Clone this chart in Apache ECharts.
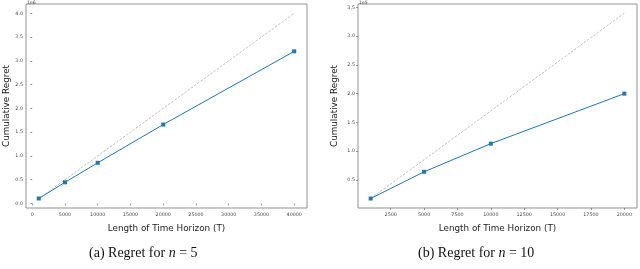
<!DOCTYPE html>
<html>
<head>
<meta charset="utf-8">
<script src="https://cdn.jsdelivr.net/npm/echarts@6/dist/echarts.min.js"></script>
<style>html,body{margin:0;padding:0;background:#fff}#c{width:640px;height:269px}</style>
</head>
<body>
<div id="c"></div>
<script>
// Data (a) n=5, values in units of 1e6
const xA = [1000, 5000, 10000, 20000, 40000];
const regretA = [0.105, 0.445, 0.855, 1.66, 3.2];
const refA = [0.1, 0.5, 1.0, 2.0, 4.0];
const xTicksA = [0, 5000, 10000, 15000, 20000, 25000, 30000, 35000, 40000];
const yTicksA = [0.0, 0.5, 1.0, 1.5, 2.0, 2.5, 3.0, 3.5, 4.0];
// Data (b) n=10, values in units of 1e5
const xB = [1000, 5000, 10000, 20000];
const regretB = [0.175, 0.64, 1.13, 2.0];
const refB = [0.175, 0.85, 1.7, 3.4];
const xTicksB = [2500, 5000, 7500, 10000, 12500, 15000, 17500, 20000];
const yTicksB = [0.5, 1.0, 1.5, 2.0, 2.5, 3.0, 3.5];
const captions = ['(a) Regret for ', '(b) Regret for '];

const blue = '#1f77b4';
const tickFont = {fontSize: 4.8, color: '#444', fontFamily: 'DejaVu Sans'};
const border = '#777';
const nameFont = {fontSize: 8.8, color: '#222', fontFamily: 'DejaVu Sans'};

function xAxis(gi, min, max, ticks) {
  return {
    type: 'value', gridIndex: gi, min: min, max: max,
    name: 'Length of Time Horizon (T)', nameLocation: 'middle', nameGap: 16,
    nameTextStyle: nameFont,
    axisLine: {show: false}, splitLine: {show: false},
    axisTick: {show: true, length: 2, customValues: ticks, lineStyle: {color: '#555', width: 0.6}},
    axisLabel: Object.assign({customValues: ticks, margin: 4, formatter: v => String(v)}, tickFont)
  };
}
function yAxis(gi, min, max, ticks, gap) {
  return {
    type: 'value', gridIndex: gi, min: min, max: max,
    name: 'Cumulative Regret', nameLocation: 'middle', nameGap: gap,
    nameTextStyle: nameFont,
    axisLine: {show: false}, splitLine: {show: false},
    axisTick: {show: true, length: 2, customValues: ticks, lineStyle: {color: '#555', width: 0.6}},
    axisLabel: Object.assign({customValues: ticks, margin: 3, formatter: v => v.toFixed(1)}, tickFont)
  };
}
function pairs(xs, ys) { return xs.map((x, i) => [x, ys[i]]); }

const chart = echarts.init(document.getElementById('c'), null, {renderer: 'canvas'});
chart.setOption({
  animation: false,
  backgroundColor: '#fff',
  grid: [
    {left: 26, right: 333, top: 4, bottom: 61, show: true, borderColor: border, borderWidth: 0.8, backgroundColor: 'transparent'},
    {left: 358, right: 3, top: 4, bottom: 61, show: true, borderColor: border, borderWidth: 0.8, backgroundColor: 'transparent'}
  ],
  xAxis: [xAxis(0, -950, 41950, xTicksA), xAxis(1, 50, 20950, xTicksB)],
  yAxis: [yAxis(0, -0.095, 4.195, yTicksA, 9), yAxis(1, 0.01, 3.56, yTicksB, 19)],
  series: [
    {type: 'line', xAxisIndex: 0, yAxisIndex: 0, data: pairs(xA, refA), symbol: 'none',
     lineStyle: {color: '#b0b0b0', width: 0.8, type: [2.5, 1.5]}, z: 1},
    {type: 'line', xAxisIndex: 0, yAxisIndex: 0, data: pairs(xA, regretA), symbol: 'rect', symbolSize: 4,
     itemStyle: {color: blue}, lineStyle: {color: blue, width: 1}, z: 2},
    {type: 'line', xAxisIndex: 1, yAxisIndex: 1, data: pairs(xB, refB), symbol: 'none',
     lineStyle: {color: '#b0b0b0', width: 0.8, type: [2.5, 1.5]}, z: 1},
    {type: 'line', xAxisIndex: 1, yAxisIndex: 1, data: pairs(xB, regretB), symbol: 'rect', symbolSize: 4,
     itemStyle: {color: blue}, lineStyle: {color: blue, width: 1}, z: 2}
  ],
  graphic: [
    {type: 'text', left: 27, top: 0, style: {text: '1e6', fontSize: 4.6, fill: '#444', fontFamily: 'DejaVu Sans'}},
    {type: 'text', left: 359, top: 0, style: {text: '1e5', fontSize: 4.6, fill: '#444', fontFamily: 'DejaVu Sans'}},
    {type: 'text', left: 89, top: 246, style: {
      rich: {s: {fontSize: 14, fontFamily: 'Liberation Serif', fill: '#111'}, i: {fontSize: 14, fontFamily: 'Liberation Serif', fontStyle: 'italic', fill: '#111'}},
      text: '{s|' + captions[0] + '}{i|n}{s| = 5}'}},
    {type: 'text', left: 418, top: 246, style: {
      rich: {s: {fontSize: 14, fontFamily: 'Liberation Serif', fill: '#111'}, i: {fontSize: 14, fontFamily: 'Liberation Serif', fontStyle: 'italic', fill: '#111'}},
      text: '{s|' + captions[1] + '}{i|n}{s| = 10}'}}
  ]
});
</script>
</body>
</html>
